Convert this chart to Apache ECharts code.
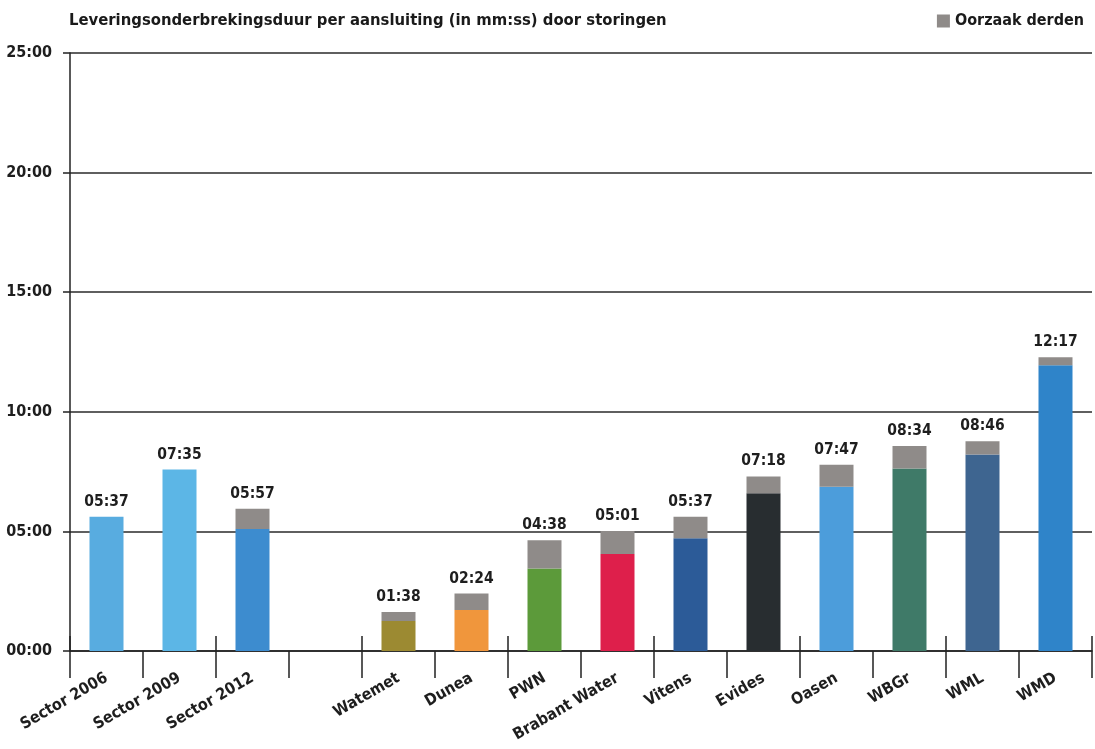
<!doctype html>
<meta charset="utf-8">
<style>
  html, body { margin: 0; padding: 0; width: 100%; height: 100%; background: #fff; }
  #chart { width: 1095px; height: 749px; }
</style>
<script src="https://cdn.jsdelivr.net/npm/echarts@6/dist/echarts.min.js"></script>

<div id="chart"></div>

<script>
  // durations in seconds
  const categories = ['Sector 2006', 'Sector 2009', 'Sector 2012', '', 'Watemet', 'Dunea', 'PWN',
    'Brabant Water', 'Vitens', 'Evides', 'Oasen', 'WBGr', 'WML', 'WMD'];
  const eigen = [337, 455, 306, '-', 75, 103, 207, 243, 283, 396, 412, 458, 493, 717];
  const derden = [0, 0, 51, '-', 23, 41, 71, 58, 54, 42, 55, 56, 33, 20];
  const barColors = ['#58ace0', '#5cb6e6', '#3d8ccf', '#fff', '#9c8a32', '#f0963c', '#5c9a3a',
    '#de1f4b', '#2c5b98', '#282d30', '#4c9ddb', '#3f7a68', '#3e6590', '#2f84c9'];

  const FONT = '"DejaVu Sans Condensed", "Liberation Sans Narrow", sans-serif';

  function mmss(s) {
    let m = Math.floor(s / 60), r = Math.round(s % 60);
    return String(m).padStart(2, '0') + ':' + String(r).padStart(2, '0');
  }

  let chart = echarts.init(document.getElementById('chart'));
  chart.setOption({
    animation: false,
    backgroundColor: '#fff',
    title: {
      text: 'Leveringsonderbrekingsduur per aansluiting (in mm:ss) door storingen',
      left: 64, top: 7,
      textStyle: { fontFamily: FONT, fontWeight: 'bold', fontSize: 16.5, color: '#1a1a1a' }
    },
    legend: {
      data: ['Oorzaak derden'],
      right: 6, top: 8,
      icon: 'rect', itemWidth: 13, itemHeight: 13, itemGap: 5,
      textStyle: { fontFamily: FONT, fontWeight: 'bold', fontSize: 16, color: '#1a1a1a' }
    },
    grid: { left: 70, right: 3, top: 53, bottom: 98, containLabel: false },
    xAxis: [{
      type: 'category',
      data: categories,
      axisLine: { lineStyle: { color: '#222', width: 1.5 } },
      axisTick: { show: true, length: 27, lineStyle: { color: '#222', width: 1.5 } },
      axisLabel: {
        rotate: 30, margin: 26, interval: 0,
        fontFamily: FONT, fontWeight: 'bold', fontSize: 16, color: '#1e1e1e'
      }
    }, {
      type: 'category',
      data: categories,
      position: 'bottom',
      axisLine: { show: false },
      axisTick: { show: true, inside: true, length: 15, lineStyle: { color: '#222', width: 1.5 } },
      axisLabel: { show: false }
    }],
    yAxis: {
      type: 'value',
      min: 0, max: 1500, interval: 300,
      axisLine: { show: true, lineStyle: { color: '#222', width: 1.5 } },
      axisTick: { show: true, length: 7, lineStyle: { color: '#222', width: 1.5 } },
      splitLine: { lineStyle: { color: '#2a2a2a', width: 1.5 } },
      axisLabel: {
        formatter: v => mmss(v), margin: 18,
        fontFamily: FONT, fontWeight: 'bold', fontSize: 16, color: '#1e1e1e'
      }
    },
    series: [{
      name: 'Eigen',
      type: 'bar',
      stack: 'duur',
      barWidth: 34,
      data: eigen,
      itemStyle: { color: p => barColors[p.dataIndex] }
    }, {
      name: 'Oorzaak derden',
      type: 'bar',
      stack: 'duur',
      barWidth: 34,
      data: derden,
      itemStyle: { color: '#8f8b89' },
      label: {
        show: true, position: 'top', distance: 7,
        fontFamily: FONT, fontWeight: 'bold', fontSize: 15.5, color: '#1e1e1e',
        formatter: p => mmss(eigen[p.dataIndex] + derden[p.dataIndex])
      }
    }]
  });
</script>
